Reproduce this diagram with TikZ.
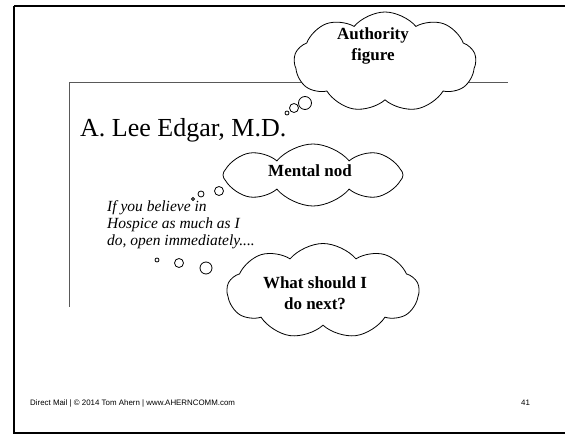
\documentclass[tikz,border=0pt]{standalone}
\usepackage{fontspec}
\setmainfont{Liberation Serif}
\setsansfont{Liberation Sans}
\usetikzlibrary{shapes.symbols, positioning}

\begin{document}
\begin{tikzpicture}[
    x=1pt, y=-1pt,
    thought/.style={cloud, cloud puffs=9, cloud puff arc=100,
                    cloud ignores aspect, draw, fill=white, thick},
    cloudtext/.style={align=center, inner sep=0pt,
                      font=\bfseries\fontsize{17}{21}\selectfont},
    bubble/.style={circle, draw, fill=white, thick, inner sep=0pt},
    frameline/.style={black, line width=1.6pt}
]
\useasboundingbox (0,0) rectangle (565,435);

% --- slide frame ---
\draw[frameline, line width=2.4pt] (14,6) -- (565,6);
\draw[frameline] (14,6) -- (14,433) -- (565,433);

% --- inner frame ---
\draw[gray!70!black] (69,307) -- (69,82) -- (508,82);

% --- title ---
\node[anchor=base west, inner sep=0pt, font=\fontsize{26}{30}\selectfont]
    (title) at (80,137) {A. Lee Edgar, M.D.};

% --- authority figure ---
\node[thought, minimum width=182pt, minimum height=100pt] (auth) at (385,62) {};
\node[cloudtext] (authtext) at ([xshift=-12pt, yshift=16pt]auth.center) {Authority\\figure};
\node[bubble, minimum size=13pt] (a1) at (305,103) {};
\node[bubble, minimum size=9pt]  (a2) at (294,108) {};
\node[bubble, minimum size=4pt]  (a3) at (287,113) {};

% --- mental nod ---
\node[thought, cloud puffs=8, minimum width=180pt, minimum height=62pt] (nod) at (313,175) {};
\node[cloudtext] (nodtext) at ([xshift=-3pt, yshift=4pt]nod.center) {Mental nod};
\node[bubble, minimum size=9pt] (n1) at (219,191) {};
\node[bubble, minimum size=6pt] (n2) at (201,194) {};
\node[bubble, minimum size=3pt] (n3) at (193,199) {};

% --- letter text ---
\node[anchor=north west, align=left, inner sep=0pt,
      font=\itshape\fontsize{15.5}{17}\selectfont]
    (teaser) at (107,200) {If you believe in\\Hospice as much as I\\do, open immediately....};

% --- what next ---
\node[bubble, minimum size=4pt]  (w1) at (157,260) {};
\node[bubble, minimum size=9pt]  (w2) at (179,263) {};
\node[bubble, minimum size=12pt] (w3) at (206,268) {};
\node[thought, minimum width=192pt, minimum height=95pt] (next) at (323,291) {};
\node[cloudtext] (nexttext) at ([xshift=-8pt, yshift=-2pt]next.center) {What should I\\do next?};

% --- footer ---
\node[anchor=base west, inner sep=0pt, font=\sffamily\fontsize{7.9}{9}\selectfont]
    (foot) at (30,406) {Direct Mail | © 2014 Tom Ahern | www.AHERNCOMM.com};
\node[anchor=base west, inner sep=0pt, font=\sffamily\fontsize{7.9}{9}\selectfont]
    (page) at (521,406) {41};

\end{tikzpicture}
\end{document}
